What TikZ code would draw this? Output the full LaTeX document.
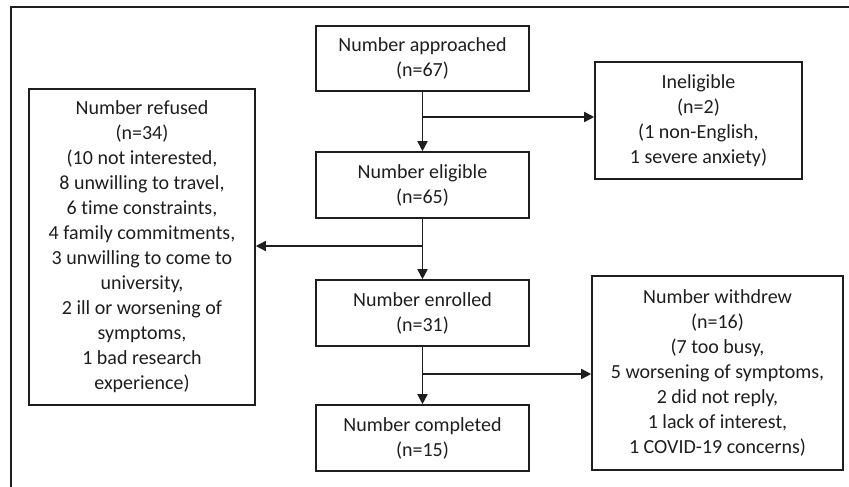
\documentclass[tikz,border=0pt]{standalone}
\usepackage{fontspec}
\setmainfont{Carlito}[Ligatures={NoCommon}]
\usetikzlibrary{arrows.meta,positioning}
\definecolor{Ink}{HTML}{1E1E1E}

\begin{document}
\begin{tikzpicture}[x=1pt,y=-1pt,
  box/.style={draw=Ink,line width=1.6pt,align=center,inner sep=0pt,text=Ink,font=\fontsize{20}{25}\selectfont},
  flow/.style={draw=Ink,line width=1.6pt,-{Triangle[length=10pt,width=10pt]}}]
  \useasboundingbox (0,0) rectangle (849,487);
  \draw[Ink,line width=1.8pt] (849,7) -- (11,7) -- (11,487);
  \node[box,minimum width=213pt,minimum height=65pt] (approached) at (422.5,58.5) {Number approached\\(n=67)};
  \node[box,minimum width=213pt,minimum height=66pt] (eligible) at (422.5,185) {Number eligible\\(n=65)};
  \node[box,minimum width=213pt,minimum height=66pt] (enrolled) at (422.5,313) {Number enrolled\\(n=31)};
  \node[box,minimum width=213pt,minimum height=66pt] (completed) at (422.5,438) {Number completed\\(n=15)};
  \node[box,minimum width=207pt,minimum height=117pt] (ineligible) at (698.5,120.5) {Ineligible\\(n=2)\\(1 non-English,\\1 severe anxiety)};
  \node[box,minimum width=226pt,minimum height=316pt] (refused) at (142,247) {Number refused\\(n=34)\\(10 not interested,\\8 unwilling to travel,\\6 time constraints,\\4 family commitments,\\3 unwilling to come to\\university,\\2 ill or worsening of\\symptoms,\\1 bad research\\experience)};
  \node[box,minimum width=251pt,minimum height=194pt] (withdrew) at (717.5,373) {Number withdrew\\(n=16)\\(7 too busy,\\5 worsening of symptoms,\\2 did not reply,\\1 lack of interest,\\1 COVID-19 concerns)};
  \coordinate (split1) at (422.5,117);
  \coordinate (split2) at (422.5,246);
  \coordinate (split3) at (422.5,374);
  \draw[flow] (approached) -- (eligible);
  \draw[flow] (eligible) -- (enrolled);
  \draw[flow] (enrolled) -- (completed);
  \draw[flow] (split1) -- (ineligible.west |- split1);
  \draw[flow] (split2) -- (refused.east |- split2);
  \draw[flow] (split3) -- (withdrew.west |- split3);
\end{tikzpicture}
\end{document}
